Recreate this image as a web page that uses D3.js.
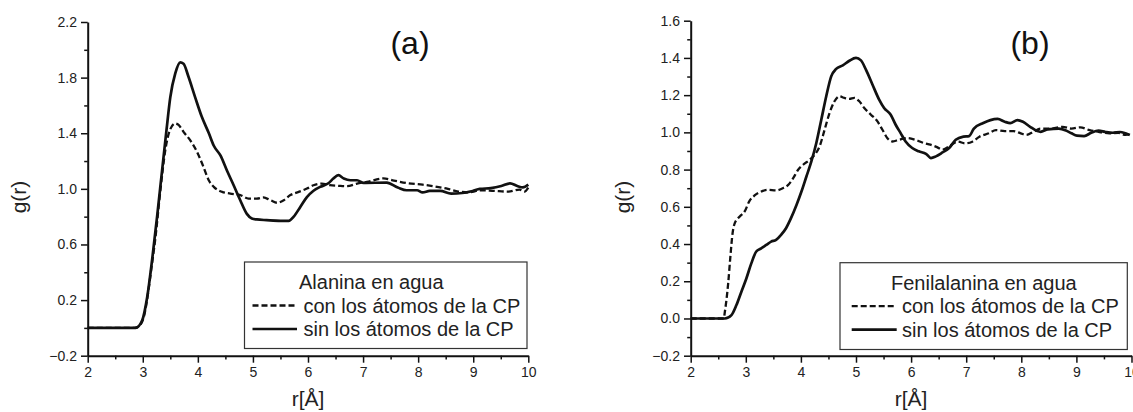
<!DOCTYPE html>
<html>
<head>
<meta charset="utf-8">
<script src="https://cdn.jsdelivr.net/npm/d3@7"></script>
<style>
  html, body { margin: 0; padding: 0; background: #fff; }
  svg { display: block; font-family: "Liberation Sans", Arial, sans-serif; }
</style>
</head>
<body>
<svg id="chart" width="1133" height="412"></svg>
<script>
// ---------- Data: panel (a) Alanina en agua ----------
const rA_con = [2.0, 2.5, 2.85, 2.95, 3.02, 3.11, 3.15, 3.23, 3.32, 3.41, 3.49, 3.59, 3.65, 3.74, 3.86, 3.98, 4.1, 4.2, 4.29, 4.44, 4.59, 4.77, 4.92, 5.07, 5.19, 5.32, 5.44, 5.56, 5.68, 5.83, 5.98, 6.1, 6.25, 6.4, 6.55, 6.71, 6.89, 7.07, 7.37, 7.56, 7.82, 8.08, 8.34, 8.54, 8.73, 8.93, 9.12, 9.38, 9.64, 9.84, 9.93, 10.0];
const gA_con = [0.0, 0.0, 0.0, 0.02, 0.08, 0.29, 0.41, 0.65, 0.99, 1.28, 1.42, 1.47, 1.46, 1.41, 1.35, 1.27, 1.16, 1.06, 1.014, 0.978, 0.966, 0.955, 0.93, 0.93, 0.938, 0.918, 0.90, 0.918, 0.955, 0.978, 1.002, 1.026, 1.038, 1.026, 1.022, 1.019, 1.038, 1.05, 1.075, 1.06, 1.04, 1.03, 1.015, 1.0, 0.98, 0.975, 0.99, 0.985, 0.98, 0.995, 0.98, 1.01];
const rA_sin = [2.0, 2.5, 2.87, 2.99, 3.08, 3.17, 3.26, 3.35, 3.43, 3.5, 3.59, 3.68, 3.74, 3.83, 3.95, 4.07, 4.2, 4.29, 4.41, 4.53, 4.65, 4.77, 4.89, 4.98, 5.07, 5.25, 5.5, 5.65, 5.74, 5.86, 5.98, 6.1, 6.22, 6.37, 6.46, 6.55, 6.65, 6.77, 6.89, 7.01, 7.43, 7.63, 7.79, 7.98, 8.08, 8.21, 8.4, 8.6, 8.8, 8.99, 9.12, 9.32, 9.51, 9.67, 9.8, 9.9, 10.0];
const gA_sin = [0.0, 0.0, 0.0, 0.055, 0.22, 0.49, 0.80, 1.13, 1.42, 1.66, 1.83, 1.91, 1.90, 1.806, 1.66, 1.52, 1.40, 1.31, 1.24, 1.13, 1.026, 0.918, 0.82, 0.787, 0.78, 0.775, 0.77, 0.77, 0.8, 0.87, 0.94, 0.986, 1.014, 1.04, 1.074, 1.098, 1.074, 1.062, 1.062, 1.043, 1.045, 1.01, 0.99, 0.99, 0.974, 0.985, 0.985, 0.966, 0.97, 0.985, 1.0, 1.005, 1.02, 1.04, 1.02, 1.01, 1.03];

// ---------- Data: panel (b) Fenilalanina en agua ----------
const rB_con = [2.0, 2.4, 2.6, 2.62, 2.68, 2.72, 2.76, 2.8, 2.89, 2.98, 3.06, 3.16, 3.28, 3.4, 3.55, 3.67, 3.77, 3.86, 3.95, 4.04, 4.16, 4.25, 4.34, 4.43, 4.52, 4.61, 4.7, 4.79, 4.88, 4.97, 5.06, 5.15, 5.27, 5.39, 5.48, 5.57, 5.66, 5.78, 5.93, 6.08, 6.23, 6.35, 6.47, 6.57, 6.69, 6.85, 6.98, 7.11, 7.24, 7.41, 7.54, 7.7, 7.86, 7.99, 8.09, 8.22, 8.35, 8.55, 8.75, 8.91, 9.07, 9.24, 9.4, 9.6, 9.76, 9.89, 9.99];
const gB_con = [0.0, 0.0, 0.0, 0.036, 0.188, 0.332, 0.458, 0.512, 0.548, 0.575, 0.628, 0.661, 0.682, 0.691, 0.688, 0.7, 0.718, 0.754, 0.799, 0.826, 0.853, 0.88, 0.925, 1.014, 1.104, 1.167, 1.194, 1.185, 1.18, 1.185, 1.167, 1.131, 1.095, 1.059, 1.014, 0.969, 0.951, 0.96, 0.969, 0.96, 0.943, 0.934, 0.921, 0.907, 0.925, 0.95, 0.941, 0.95, 0.977, 0.995, 1.012, 1.007, 1.007, 0.995, 0.986, 1.003, 1.02, 1.02, 1.03, 1.02, 1.027, 1.012, 1.003, 0.995, 0.998, 0.986, 0.995];
const rB_sin = [2.0, 2.4, 2.62, 2.74, 2.83, 2.92, 3.01, 3.1, 3.19, 3.28, 3.37, 3.46, 3.55, 3.64, 3.73, 3.82, 3.92, 4.01, 4.1, 4.19, 4.28, 4.37, 4.46, 4.55, 4.64, 4.76, 4.88, 5.0, 5.09, 5.18, 5.3, 5.42, 5.51, 5.63, 5.72, 5.81, 5.9, 6.02, 6.14, 6.27, 6.36, 6.45, 6.57, 6.69, 6.81, 6.95, 7.05, 7.14, 7.31, 7.44, 7.57, 7.7, 7.8, 7.93, 8.03, 8.16, 8.29, 8.35, 8.48, 8.68, 8.81, 8.91, 9.01, 9.14, 9.27, 9.4, 9.53, 9.66, 9.79, 9.89, 9.97];
const gB_sin = [0.0, 0.0, 0.0, 0.018, 0.072, 0.144, 0.215, 0.296, 0.36, 0.377, 0.395, 0.413, 0.422, 0.449, 0.485, 0.539, 0.61, 0.682, 0.763, 0.844, 0.943, 1.068, 1.194, 1.301, 1.341, 1.36, 1.385, 1.4, 1.387, 1.337, 1.256, 1.176, 1.131, 1.095, 1.041, 0.996, 0.951, 0.916, 0.898, 0.885, 0.862, 0.871, 0.892, 0.916, 0.96, 0.977, 0.98, 1.02, 1.05, 1.066, 1.072, 1.057, 1.05, 1.066, 1.057, 1.03, 1.007, 1.003, 1.016, 1.02, 1.01, 0.995, 0.982, 0.98, 0.998, 1.009, 1.002, 0.998, 1.002, 0.995, 0.986];

// ---------- Axis ticks ----------
const xMajor = [2, 3, 4, 5, 6, 7, 8, 9, 10];
const xMinor = [2.5, 3.5, 4.5, 5.5, 6.5, 7.5, 8.5, 9.5];
const yMajorA = [-0.2, 0.2, 0.6, 1.0, 1.4, 1.8, 2.2];
const yMinorA = [0.0, 0.4, 0.8, 1.2, 1.6, 2.0];
const yMajorB = [-0.2, 0.0, 0.2, 0.4, 0.6, 0.8, 1.0, 1.2, 1.4, 1.6];
const yMinorB = [-0.1, 0.1, 0.3, 0.5, 0.7, 0.9, 1.1, 1.3, 1.5];

const titleA = "Alanina en agua";
const titleB = "Fenilalanina en agua";
const seriesNames = ["con los átomos de la CP", "sin los átomos de la CP"];

const svg = d3.select("#chart");

function panel(cfg) {
  const x = d3.scaleLinear().domain([2, 10]).range([cfg.left, cfg.right]);
  const y = d3.scaleLinear().domain(cfg.yDomain).range([cfg.bottom, cfg.top]);
  const g = svg.append("g");

  // minor ticks
  g.append("g").attr("transform", `translate(0,${cfg.bottom})`)
    .call(d3.axisBottom(x).tickValues(xMinor).tickSize(3.7).tickFormat(""))
    .call(s => s.select(".domain").remove());
  g.append("g").attr("transform", `translate(${cfg.left},0)`)
    .call(d3.axisLeft(y).tickValues(cfg.yMinor).tickSize(3.5).tickFormat(""))
    .call(s => s.select(".domain").remove());

  // major
  g.append("g").attr("transform", `translate(0,${cfg.bottom})`)
    .call(d3.axisBottom(x).tickValues(xMajor).tickSizeInner(7).tickSizeOuter(0).tickPadding(4).tickFormat(d3.format("d")));
  g.append("g").attr("transform", `translate(${cfg.left},0)`)
    .call(d3.axisLeft(y).tickValues(cfg.yMajor).tickSizeInner(6.7).tickSizeOuter(0).tickPadding(4)
      .tickFormat(d => cfg.yLabelFn(d)));

  g.selectAll(".tick line").attr("stroke", "#111").attr("stroke-width", 1.5);
  g.selectAll(".domain").attr("stroke", "#111").attr("stroke-width", 2);
  g.selectAll(".tick text").attr("font-size", 14).attr("fill", "#222")
    .attr("font-family", "Liberation Sans, Arial, sans-serif");

  // curves
  const line = d3.line().x(d => x(d[0])).y(d => y(d[1])).curve(d3.curveMonotoneX);
  const con = cfg.rCon.map((r, i) => [r, cfg.gCon[i]]);
  const sin = cfg.rSin.map((r, i) => [r, cfg.gSin[i]]);
  g.append("path").attr("d", line(con)).attr("fill", "none").attr("stroke", "#111")
    .attr("stroke-width", 2.3).attr("stroke-dasharray", "6,3");
  g.append("path").attr("d", line(sin)).attr("fill", "none").attr("stroke", "#111")
    .attr("stroke-width", 2.7);

  // axis titles
  g.append("text").attr("x", (cfg.left + cfg.right) / 2).attr("y", 406)
    .attr("text-anchor", "middle").attr("font-size", 21).attr("fill", "#222").text("r[Å]");
  g.append("text").attr("transform", `translate(${cfg.yLabelX},197) rotate(-90)`)
    .attr("text-anchor", "middle").attr("font-size", 21).attr("fill", "#222").text("g(r)");

  // panel tag
  g.append("text").attr("x", cfg.tagX).attr("y", 54).attr("text-anchor", "middle")
    .attr("font-size", 32).attr("fill", "#111").text(cfg.tag);

  // legend
  const L = cfg.legend;
  g.append("rect").attr("x", L.x0).attr("y", L.y0).attr("width", L.x1 - L.x0).attr("height", L.y1 - L.y0)
    .attr("fill", "#fff").attr("stroke", "#333").attr("stroke-width", 1.2);
  g.append("text").attr("x", L.titleX).attr("y", L.y0 + 27).attr("font-size", 20).attr("fill", "#222").text(cfg.title);
  const rows = [{dash: "6,3", w: 2.3, name: seriesNames[0]}, {dash: null, w: 2.7, name: seriesNames[1]}];
  rows.forEach((r, i) => {
    const cy = L.y0 + 43.5 + i * 23.5;
    g.append("line").attr("x1", L.sx0).attr("x2", L.sx1).attr("y1", cy).attr("y2", cy)
      .attr("stroke", "#111").attr("stroke-width", r.w).attr("stroke-dasharray", r.dash);
    g.append("text").attr("x", L.textX).attr("y", cy + 7).attr("font-size", 20).attr("fill", "#222").text(r.name);
  });
}

const fmt1 = d3.format(".1f");
panel({
  left: 87.7, right: 528.3, top: 22, bottom: 355.7, yDomain: [-0.2, 2.2],
  yMajor: yMajorA, yMinor: yMinorA, yLabelFn: d => fmt1(d),
  rCon: rA_con, gCon: gA_con, rSin: rA_sin, gSin: gA_sin,
  yLabelX: 26, tag: "(a)", tagX: 410, title: titleA,
  legend: {x0: 244.5, x1: 527, y0: 262, y1: 348.5, titleX: 299, sx0: 252.5, sx1: 297, textX: 303.5}
});
panel({
  left: 690.7, right: 1131.5, top: 20.7, bottom: 355.7, yDomain: [-0.2, 1.6],
  yMajor: yMajorB, yMinor: yMinorB, yLabelFn: d => fmt1(d),
  rCon: rB_con, gCon: gB_con, rSin: rB_sin, gSin: gB_sin,
  yLabelX: 630, tag: "(b)", tagX: 1030, title: titleB,
  legend: {x0: 840, x1: 1127.3, y0: 262.7, y1: 349.5, titleX: 891, sx0: 851.7, sx1: 896.7, textX: 902}
});
</script>
</body>
</html>
